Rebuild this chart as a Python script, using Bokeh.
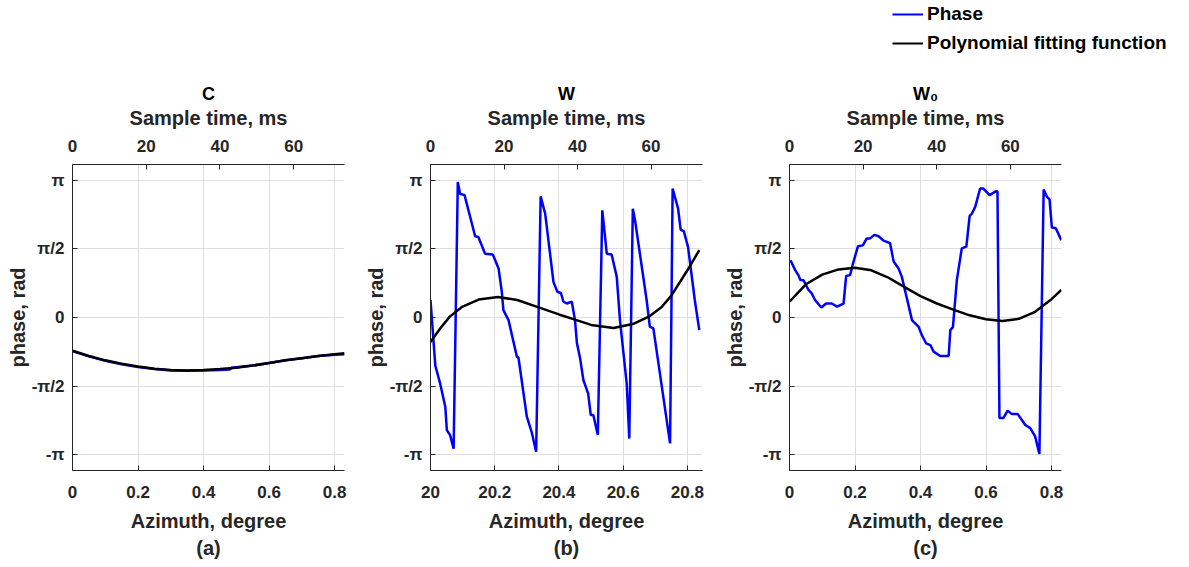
import math
from bokeh.plotting import figure
from bokeh.models import (Range1d, LinearAxis, FixedTicker, NumeralTickFormatter,
                          Title, Legend, LegendItem, Grid)
from bokeh.layouts import row, column
from bokeh.embed import file_html
from bokeh.resources import INLINE

# ---------------- data ----------------
PI = math.pi
Y_TICKS = [-PI, -PI / 2, 0, PI / 2, PI]
Y_TICK_LABELS = ["-π", "-π/2", "0", "π/2", "π"]
TIME_TICKS = [0, 20, 40, 60]

# Panel (a) C
a_phase_x = [0.0, 0.05, 0.10, 0.15, 0.20, 0.25, 0.30, 0.35, 0.40, 0.45, 0.48, 0.485,
             0.55, 0.60, 0.65, 0.70, 0.75, 0.80, 0.83]
a_phase_y = [-0.77, -0.89, -0.99, -1.07, -1.13, -1.18, -1.21, -1.22, -1.21, -1.20, -1.19, -1.15,
             -1.10, -1.04, -0.98, -0.93, -0.88, -0.85, -0.84]
a_fit_x = [0.0, 0.05, 0.10, 0.15, 0.20, 0.25, 0.30, 0.35, 0.40, 0.45, 0.50, 0.55,
           0.60, 0.65, 0.70, 0.75, 0.80, 0.83]
a_fit_y = [-0.76, -0.88, -0.98, -1.06, -1.12, -1.17, -1.20, -1.21, -1.20, -1.18, -1.15, -1.10,
           -1.04, -0.98, -0.93, -0.88, -0.84, -0.82]

# Panel (b) W
b_phase_x = [20.000, 20.015, 20.030, 20.046, 20.051, 20.061, 20.072, 20.085, 20.092, 20.106,
             20.139, 20.149, 20.170, 20.194, 20.212, 20.222, 20.227, 20.243, 20.269, 20.274,
             20.300, 20.315, 20.329, 20.343, 20.357, 20.383, 20.395, 20.406, 20.414, 20.424,
             20.440, 20.450, 20.456, 20.466, 20.476, 20.491, 20.499, 20.507, 20.521, 20.535,
             20.549, 20.564, 20.580, 20.590, 20.611, 20.619, 20.630, 20.637, 20.673, 20.683,
             20.694, 20.746, 20.754, 20.771, 20.779, 20.789, 20.802, 20.823, 20.837]
b_phase_y = [0.40, -1.10, -1.51, -2.04, -2.58, -2.69, -3.00, 3.10, 2.83, 2.80,
             1.86, 1.84, 1.46, 1.44, 1.12, 0.59, 0.17, -0.06, -0.90, -0.92,
             -2.27, -2.62, -3.07, 2.77, 2.38, 0.81, 0.59, 0.56, 0.36, 0.32,
             0.36, -0.06, -0.59, -0.94, -1.43, -1.74, -2.23, -2.23, -2.69, 2.45,
             1.46, 1.44, 0.93, -0.06, -1.51, -2.77, 2.49, 2.22, 0.40, -0.21,
             -0.25, -2.88, 2.95, 2.49, 2.01, 1.97, 1.61, 0.40, -0.29]
b_fit_x = [20.00, 20.03, 20.06, 20.10, 20.15, 20.21, 20.27, 20.33, 20.40, 20.45, 20.50,
           20.57, 20.63, 20.68, 20.72, 20.75, 20.80, 20.837]
b_fit_y = [-0.56, -0.25, 0.02, 0.25, 0.41, 0.47, 0.40, 0.25, 0.07, -0.05, -0.17,
           -0.24, -0.15, 0.02, 0.24, 0.50, 1.08, 1.54]

# Panel (c) W0
c_phase_x = [0.003, 0.017, 0.027, 0.033, 0.043, 0.058, 0.068, 0.078, 0.097, 0.112,
             0.129, 0.145, 0.165, 0.173, 0.185, 0.194, 0.209, 0.224, 0.236, 0.246,
             0.259, 0.272, 0.287, 0.307, 0.318, 0.333, 0.343, 0.374, 0.379, 0.394,
             0.404, 0.417, 0.430, 0.440, 0.460, 0.486, 0.491, 0.499, 0.511, 0.526,
             0.540, 0.550, 0.557, 0.567, 0.582, 0.592, 0.611, 0.631, 0.635, 0.641,
             0.653, 0.666, 0.679, 0.697, 0.720, 0.735, 0.750, 0.763, 0.776, 0.786,
             0.794, 0.801, 0.813, 0.830]
c_phase_y = [1.31, 1.09, 0.97, 0.86, 0.85, 0.63, 0.55, 0.40, 0.23, 0.32,
             0.32, 0.25, 0.32, 0.95, 0.97, 1.24, 1.63, 1.65, 1.81, 1.81,
             1.89, 1.86, 1.76, 1.70, 1.28, 1.12, 0.93, -0.06, -0.10, -0.21,
             -0.40, -0.59, -0.63, -0.78, -0.88, -0.88, -0.29, -0.22, 0.86, 1.58,
             1.62, 2.32, 2.38, 2.53, 2.95, 2.95, 2.80, 2.89, 2.89, -2.30,
             -2.30, -2.13, -2.21, -2.21, -2.46, -2.53, -2.72, -3.12, 2.93, 2.76,
             2.70, 2.06, 2.04, 1.77]
c_fit_x = [0.0, 0.05, 0.10, 0.15, 0.20, 0.25, 0.30, 0.35, 0.40, 0.45, 0.50, 0.55,
           0.60, 0.65, 0.70, 0.75, 0.80, 0.83]
c_fit_y = [0.36, 0.76, 0.98, 1.10, 1.14, 1.08, 0.92, 0.70, 0.49, 0.32, 0.18, 0.05,
           -0.04, -0.08, -0.03, 0.13, 0.42, 0.63]

# ---------------- styling ----------------
FONT = "Liberation Sans"
TXT = "#262626"
GRID = "#dedede"
BLUE = "#0000ff"
BLACK = "#000000"


def style_axis(ax):
    ax.axis_line_color = TXT
    ax.major_tick_line_color = TXT
    ax.major_tick_in = 5
    ax.major_tick_out = 0
    ax.minor_tick_line_color = None
    ax.major_label_text_font = FONT
    ax.major_label_text_font_size = "17px"
    ax.major_label_text_font_style = "bold"
    ax.major_label_text_color = TXT
    ax.axis_label_text_font = FONT
    ax.axis_label_text_font_size = "20px"
    ax.axis_label_text_font_style = "bold"
    ax.axis_label_text_color = TXT


def make_panel(title, tag, xr, tmax, xticks, phase_x, phase_y, fit_x, fit_y,
               width, left, right):
    p = figure(width=width, height=507, x_range=Range1d(*xr), y_range=Range1d(-3.5, 3.5),
               x_axis_type=None, y_axis_type=None,
               output_backend="svg", toolbar_location=None,
               min_border_left=left, min_border_right=right,
               min_border_top=104, min_border_bottom=97, title=title)
    p.outline_line_color = None
    p.background_fill_color = "white"
    p.border_fill_color = "white"

    p.title.align = "center"
    p.title.text_font = FONT
    p.title.text_font_size = "18px"
    p.title.text_font_style = "bold"
    p.title.text_color = "#000000"
    p.title.standoff = 0

    p.extra_x_ranges = {"time": Range1d(0, tmax)}
    top = LinearAxis(x_range_name="time", axis_label="Sample time, ms",
                     ticker=FixedTicker(ticks=TIME_TICKS))
    style_axis(top)
    top.major_label_standoff = 13
    top.axis_label_standoff = 8
    p.add_layout(top, "above")

    xticker = FixedTicker(ticks=xticks)
    bx = LinearAxis(ticker=xticker, formatter=NumeralTickFormatter(format="0.[0]"),
                    axis_label="Azimuth, degree")
    style_axis(bx)
    bx.major_label_standoff = 15
    bx.axis_label_standoff = 9
    p.add_layout(bx, "below")

    yticker = FixedTicker(ticks=Y_TICKS)
    ya = LinearAxis(ticker=yticker, axis_label="phase, rad")
    style_axis(ya)
    ya.major_label_overrides = {t: l for t, l in zip(Y_TICKS, Y_TICK_LABELS)}
    ya.major_label_standoff = 8
    ya.axis_label_standoff = 0
    p.add_layout(ya, "left")

    p.add_layout(Grid(dimension=0, ticker=xticker, grid_line_color=GRID))
    p.add_layout(Grid(dimension=1, ticker=yticker, grid_line_color=GRID))

    p.add_layout(Title(text=tag, align="center", text_font=FONT, text_font_size="20px",
                       text_font_style="bold", text_color=TXT, standoff=0), "below")

    p.line(phase_x, phase_y, line_color=BLUE, line_width=2.5)
    p.line(fit_x, fit_y, line_color=BLACK, line_width=2.5)
    return p


pa = make_panel("C", "(a)", (0, 0.83), 73.8, [0, 0.2, 0.4, 0.6, 0.8],
                a_phase_x, a_phase_y, a_fit_x, a_fit_y, 358, 72, 14)
pb = make_panel("W", "(b)", (20, 20.847), 74.0, [20, 20.2, 20.4, 20.6, 20.8],
                b_phase_x, b_phase_y, b_fit_x, b_fit_y, 358, 72, 14)
pc = make_panel("W₀", "(c)", (0, 0.8305), 73.9, [0, 0.2, 0.4, 0.6, 0.8],
                c_phase_x, c_phase_y, c_fit_x, c_fit_y, 473, 73, 128)

# legend strip
lg = figure(width=1189, height=60, x_range=Range1d(0, 1), y_range=Range1d(0, 1),
            x_axis_type=None, y_axis_type=None, output_backend="svg",
            toolbar_location=None, min_border=0)
lg.outline_line_color = None
lg.grid.visible = False
r1 = lg.line([-5, -4], [-5, -4], line_color=BLUE, line_width=2)
r2 = lg.line([-5, -4], [-5, -4], line_color=BLACK, line_width=2)
legend = Legend(items=[LegendItem(label="Phase", renderers=[r1]),
                       LegendItem(label="Polynomial fitting function", renderers=[r2])],
                location=(892, 6), padding=0, margin=0, spacing=7,
                label_height=20, glyph_height=20, glyph_width=31, label_standoff=4,
                border_line_alpha=0, background_fill_alpha=0,
                label_text_font=FONT, label_text_font_size="19px",
                label_text_font_style="bold", label_text_color="#000000")
lg.add_layout(legend, "center")

layout = column(lg, row(pa, pb, pc))
open("out.html", "w").write(file_html(layout, INLINE))
